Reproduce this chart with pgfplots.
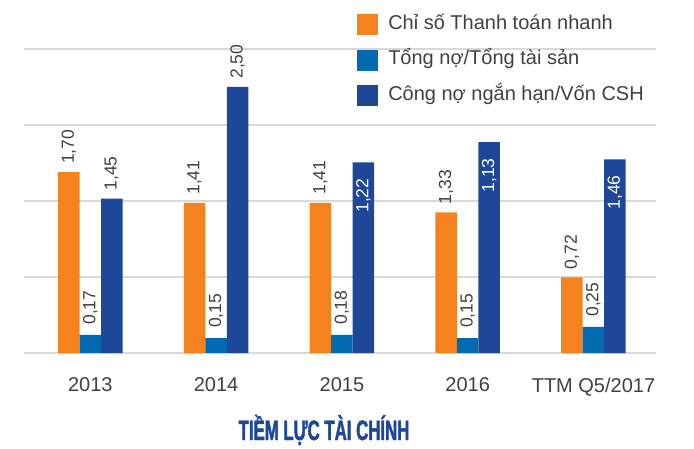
\documentclass[border=0pt]{standalone}
\usepackage{pgfplots}
\pgfplotsset{compat=1.18}
\usepackage{pgfplotstable}
\usepackage{fontspec}
\setmainfont{Liberation Sans}
\newfontfamily\titlefont{Liberation Sans}[FakeStretch=0.6, BoldFeatures={FakeBold=1.5}]

\definecolor{cOrange}{HTML}{F5821F}
\definecolor{cLight}{HTML}{006BB0}
\definecolor{cDark}{HTML}{1F4799}
\definecolor{cGrid}{HTML}{D9D9D9}
\definecolor{cText}{HTML}{404040}

% bar heights as drawn, labels as printed
\pgfplotstableread{
x y lab
0 1.70 1,70
1 1.41 1,41
2 1.41 1,41
3 1.32 1,33
4 0.71 0,72
}\quick
\pgfplotstableread{
x y lab
0 0.17 0,17
1 0.14 0,15
2 0.17 0,18
3 0.14 0,15
4 0.245 0,25
}\debt
\pgfplotstableread{
x y lab
0 1.45 1,45
1 2.50 2,50
}\shortout
\pgfplotstableread{
x y lab
2 1.79 1,22
3 1.98 1,13
4 1.82 1,46
}\shortin

\pgfplotsset{
  mybar/.style={ybar, bar width=21.5pt, draw=none, fill=#1,
    legend image code/.code={\fill[#1] (0pt,-10.5pt) rectangle (21pt,10.5pt);}},
  % #1 = horizontal offset of the bar, #2 = gap above the bar top
  lblout/.style 2 args={nodes near coords={\pgfplotspointmeta}, point meta=explicit symbolic,
    every node near coord/.style={xshift=#1, rotate=90, anchor=west, inner xsep=#2,
      inner ysep=0pt, font=\fontsize{17.5}{20}\selectfont, text=cText}},
  lblin/.style={nodes near coords={\pgfplotspointmeta}, point meta=explicit symbolic,
    every node near coord/.style={xshift=#1, rotate=90, anchor=east, inner xsep=16pt,
      inner ysep=0pt, font=\fontsize{17.5}{20}\selectfont, text=white}},
}

\begin{document}
\begin{tikzpicture}
\path[use as bounding box] (-24pt,-95pt) rectangle (670pt,353pt);
\begin{axis}[
  scale only axis, width=632pt, height=304pt,
  xmin=-0.527, xmax=4.497, ymin=0, ymax=2.856,
  axis line style={draw=none}, major tick length=0pt,
  ytick={0,0.714,1.428,2.142,2.856}, yticklabels={},
  ymajorgrids, grid style={draw=cGrid, line width=1.6pt},
  xtick={0,1,2,3,4}, xticklabels={2013,2014,2015,2016,TTM Q5/2017},
  xticklabel style={font=\fontsize{20}{24}\selectfont, text=cText, yshift=-21pt},
  clip=false,
  legend style={at={(0.527,1.115)}, anchor=north west, draw=none, fill=none,
    font=\fontsize{20}{24}\selectfont, text=cText, inner sep=0pt,
    row sep=14.5pt, column sep=10pt,
    nodes={inner sep=0pt, text height=15pt, text depth=6pt, anchor=west}},
  legend cell align=left,
]
\addplot[mybar=cOrange, bar shift=-21.5pt, lblout={-21.5pt}{8pt}] table[x=x, y=y, meta=lab] {\quick};
\addlegendentry{Chỉ số Thanh toán nhanh}
\addplot[mybar=cLight, bar shift=0pt, lblout={0pt}{10pt}] table[x=x, y=y, meta=lab] {\debt};
\addlegendentry{Tổng nợ/Tổng tài sản}
\addplot[mybar=cDark, bar shift=21.5pt, lblout={21.5pt}{8pt}] table[x=x, y=y, meta=lab] {\shortout};
\addlegendentry{Công nợ ngắn hạn/Vốn CSH}
\addplot[mybar=cDark, bar shift=21.5pt, lblin=21.5pt, forget plot] table[x=x, y=y, meta=lab] {\shortin};
\end{axis}
\node[anchor=base, inner sep=0pt, text=cDark, font=\titlefont\bfseries\fontsize{28}{30}\selectfont]
  at (300pt,-87pt) {TIỀM LỰC TÀI CHÍNH};
\end{tikzpicture}
\end{document}
